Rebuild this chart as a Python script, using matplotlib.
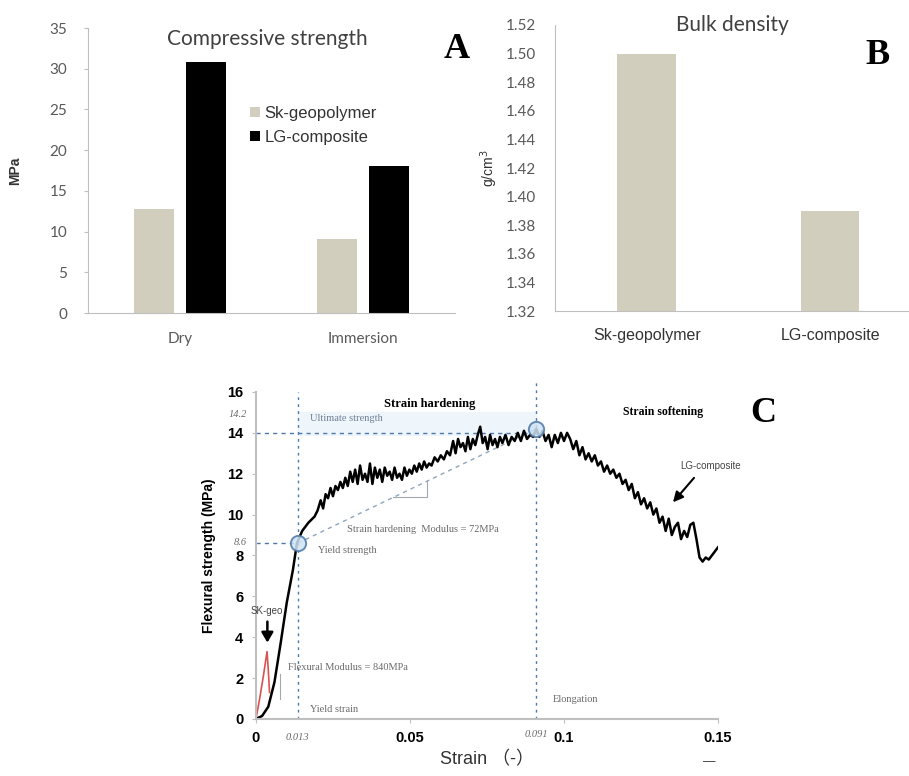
import matplotlib
matplotlib.use("Agg")
import matplotlib.pyplot as plt

# panel A - compressive strength (MPa)
conditions = ["Dry", "Immersion"]
sk_strength = [12.8, 9.1]
lg_strength = [30.8, 18.0]

# panel B - bulk density (g/cm3)
materials = ["Sk-geopolymer", "LG-composite"]
density = [1.50, 1.39]

# panel C - flexural stress/strain curve of LG-composite
lg_strain = [0.000, 0.002, 0.004, 0.006, 0.008, 0.010, 0.012, 0.0133, 0.0150, 0.0170,
             0.0190, 0.0200, 0.0210, 0.0218, 0.0226, 0.0234, 0.0242, 0.0250, 0.0258, 0.0266,
             0.0274, 0.0282, 0.0290, 0.0298, 0.0306, 0.0314, 0.0322, 0.0330, 0.0338, 0.0346,
             0.0354, 0.0362, 0.0370, 0.0378, 0.0386, 0.0394, 0.0402, 0.0410, 0.0418, 0.0426,
             0.0434, 0.0442, 0.0450, 0.0458, 0.0466, 0.0474, 0.0482, 0.0490, 0.0498, 0.0506,
             0.0514, 0.0522, 0.0530, 0.0538, 0.0546, 0.0554, 0.0562, 0.0570, 0.0580, 0.0590,
             0.0600, 0.0610, 0.0620, 0.0630, 0.0640, 0.0648, 0.0656, 0.0664, 0.0672, 0.0680,
             0.0688, 0.0696, 0.0704, 0.0712, 0.0720, 0.0728, 0.0736, 0.0744, 0.0752, 0.0760,
             0.0768, 0.0776, 0.0784, 0.0792, 0.0800, 0.0810, 0.0820, 0.0830, 0.0840, 0.0850,
             0.0860, 0.0870, 0.0880, 0.0890, 0.0900, 0.0910, 0.0920, 0.0930, 0.0940, 0.0950,
             0.0960, 0.0970, 0.0980, 0.0990, 0.1000, 0.1010, 0.1020, 0.1030, 0.1040, 0.1050,
             0.1060, 0.1070, 0.1080, 0.1090, 0.1100, 0.1110, 0.1120, 0.1130, 0.1140, 0.1150,
             0.1160, 0.1170, 0.1180, 0.1190, 0.1200, 0.1210, 0.1220, 0.1230, 0.1240, 0.1250,
             0.1260, 0.1270, 0.1280, 0.1290, 0.1300, 0.1310, 0.1320, 0.1330, 0.1340, 0.1350,
             0.1360, 0.1370, 0.1380, 0.1390, 0.1400, 0.1410, 0.1420, 0.1430, 0.1440, 0.1450,
             0.1460, 0.1470, 0.1480, 0.1490, 0.1500]
lg_stress = [0.0, 0.15, 0.6, 1.8, 3.7, 5.7, 7.3, 8.6, 9.2, 9.6,
             9.9, 10.2, 10.7, 10.3, 11.0, 10.8, 11.3, 10.9, 11.4, 11.2,
             11.6, 11.3, 11.8, 11.4, 12.1, 11.6, 12.2, 11.5, 12.4, 11.7,
             12.0, 11.6, 12.5, 11.5, 12.3, 11.8, 12.2, 11.6, 12.3, 11.9,
             12.1, 11.7, 12.3, 11.8, 12.0, 11.7, 12.3, 11.9, 12.2, 12.0,
             12.4, 12.1, 12.5, 12.2, 12.6, 12.3, 12.5, 12.4, 12.8, 12.6,
             12.9, 12.7, 13.1, 12.9, 13.6, 13.0, 13.7, 13.3, 13.5, 13.1,
             13.8, 13.2, 13.7, 13.4, 13.9, 14.3, 13.5, 13.8, 13.2, 13.9,
             13.4, 13.7, 13.3, 13.8, 13.5, 13.9, 13.4, 13.8, 13.6, 14.0,
             13.6, 14.1, 13.7, 13.9, 13.8, 14.2, 13.8, 14.1, 13.6, 13.9,
             13.3, 13.9, 13.5, 14.0, 13.6, 14.0, 13.7, 13.2, 13.6, 12.9,
             13.3, 12.7, 13.0, 12.6, 12.9, 12.4, 12.6, 12.1, 12.4, 12.0,
             12.2, 11.8, 12.0, 11.5, 11.7, 11.2, 11.5, 10.8, 11.1, 10.5,
             10.8, 10.3, 10.6, 10.0, 10.3, 9.6, 9.9, 9.2, 9.8, 9.0,
             9.4, 9.6, 8.8, 9.2, 8.9, 9.5, 9.6, 8.8, 7.9, 7.7,
             7.9, 7.8, 8.0, 8.2, 8.4]

sk_strain = [0.0, 0.0012, 0.0024, 0.0036, 0.0040, 0.0044]
sk_stress = [0.0, 1.0, 2.1, 3.3, 2.4, 1.3]

yield_strain, yield_strength = 0.0136, 8.6
peak_strain, peak_strength = 0.091, 14.2
ultimate_line = 14.0

beige = "#d2cebd"
grey_txt = "#595959"
spine_c = "#bfbfbf"
calibri = ["Lato", "DejaVu Sans"]
arial = ["Liberation Sans", "DejaVu Sans"]
times = ["Liberation Serif", "DejaVu Serif"]

fig = plt.figure(figsize=(9.09, 7.76), dpi=100)

# ---------------- A ----------------
axA = fig.add_axes([0.0968, 0.5966, 0.4037, 0.3673])
xs = range(len(conditions))
axA.bar([x - 0.141 for x in xs], sk_strength, width=0.217, color=beige, label="Sk-geopolymer")
axA.bar([x + 0.141 for x in xs], lg_strength, width=0.217, color="black", label="LG-composite")
axA.set_xlim(-0.5, 1.5)
axA.set_ylim(0, 35)
axA.set_yticks(range(0, 36, 5))
axA.set_xticks(list(xs))
axA.set_xticklabels(conditions, family=calibri, fontsize=11, color=grey_txt)
axA.tick_params(axis="x", length=0, pad=14)
axA.tick_params(axis="y", length=3, color=spine_c, labelcolor=grey_txt, labelsize=11, pad=12)
for lab in axA.get_yticklabels():
    lab.set_family(calibri)
for s in ["top", "right"]:
    axA.spines[s].set_visible(False)
axA.spines["left"].set_color(spine_c)
axA.spines["bottom"].set_color(spine_c)
axA.set_ylabel("MPa", family=arial, fontsize=10, fontweight="bold", color="#333333", labelpad=20)
axA.text(0.49, 0.96, "Compressive strength", transform=axA.transAxes, ha="center", va="center",
         family=calibri, fontsize=15, color="#404040")
axA.legend(loc="upper left", bbox_to_anchor=(0.40, 0.78), frameon=False, prop={"family": arial, "size": 12},
           handlelength=0.6, handleheight=0.6, handletextpad=0.3, labelspacing=0.55, labelcolor="#333333")

# ---------------- B ----------------
axB = fig.add_axes([0.6106, 0.5992, 0.3894, 0.3686])
axB.bar(range(len(materials)), [d - 1.32 for d in density], bottom=1.32, width=0.32, color=beige)
axB.set_xlim(-0.5, 1.43)
axB.set_ylim(1.32, 1.52)
axB.set_yticks([1.32 + 0.02 * i for i in range(11)])
axB.set_yticklabels(["%.2f" % (1.32 + 0.02 * i) for i in range(11)], family=calibri)
axB.set_xticks(range(len(materials)))
axB.set_xticklabels(materials, family=arial, fontsize=11.5, color="#333333")
axB.tick_params(axis="x", length=0, pad=12)
axB.tick_params(axis="y", length=0, labelcolor=grey_txt, labelsize=11, pad=14)
for s in ["top", "right"]:
    axB.spines[s].set_visible(False)
axB.spines["left"].set_color(spine_c)
axB.spines["bottom"].set_color(spine_c)
axB.set_ylabel("g/cm$^3$", family=arial, fontsize=10, color="#333333", labelpad=4)
axB.text(0.5, 1.0, "Bulk density", transform=axB.transAxes, ha="center", va="center",
         family=calibri, fontsize=15, color="#404040")

# ---------------- C ----------------
axC = fig.add_axes([0.2816, 0.0735, 0.5083, 0.4214])
blue = "#4f79a6"
axC.axhspan(13.9, 15.0, xmin=yield_strain / 0.15, xmax=peak_strain / 0.15, color="#eef5fb", zorder=0)
axC.plot([0, peak_strain], [ultimate_line, ultimate_line], ls=(0, (3, 3)), color=blue, lw=1)
axC.plot([0, yield_strain], [yield_strength, yield_strength], ls=(0, (3, 3)), color=blue, lw=1)
axC.plot([yield_strain, yield_strain], [0, 16], ls=(0, (2, 3)), color=blue, lw=1, clip_on=False)
axC.plot([peak_strain, peak_strain], [0, 16.6], ls=(0, (2, 3)), color=blue, lw=1, clip_on=False)
axC.plot([yield_strain, peak_strain], [yield_strength, peak_strength], ls=(0, (3, 3)), color="#8fa5bd", lw=1)
# slope triangles
axC.plot([0.0445, 0.0555, 0.0555], [10.85, 10.85, 11.64], color="#a0a8b0", lw=0.8)
axC.plot([0.0078, 0.0078], [1.0, 2.2], color="#a0a8b0", lw=0.8)

axC.plot(sk_strain, sk_stress, color="#d9544f", lw=1.2)
axC.plot(lg_strain, lg_stress, color="black", lw=1.8)
for px, py in [(yield_strain, yield_strength), (peak_strain, peak_strength)]:
    axC.plot(px, py, "o", ms=11, mfc="#cfe3f5", mec=blue, mew=1.4, alpha=0.85)

axC.set_xlim(0, 0.15)
axC.set_ylim(0, 16)
axC.set_xticks([0, 0.05, 0.1, 0.15])
axC.set_xticklabels(["0", "0.05", "0.1", "0.15"])
axC.set_yticks(range(0, 17, 2))
axC.tick_params(length=3, color=spine_c, labelsize=10.5, pad=6)
for lab in axC.get_xticklabels() + axC.get_yticklabels():
    lab.set_family(arial)
    lab.set_fontweight("bold")
for s in ["top", "right"]:
    axC.spines[s].set_visible(False)
axC.spines["left"].set_color(spine_c)
axC.spines["bottom"].set_color(spine_c)
axC.spines["left"].set_linewidth(1.5)
axC.spines["bottom"].set_linewidth(1.5)
axC.set_ylabel("Flexural strength (MPa)", family=arial, fontsize=10, fontweight="bold", labelpad=8)
axC.set_xlabel("Strain （-）", family=["Liberation Sans", "Noto Sans CJK SC"], fontsize=13,
               color="#333333", labelpad=4)

note = dict(family=times, fontsize=7.5, color="#6a6a6a")
axC.text(0.0565, 15.4, "Strain hardening", family=times, fontsize=9, fontweight="bold", ha="center", va="center")
axC.text(0.132, 15.0, "Strain softening", family=times, fontsize=8.5, fontweight="bold", ha="center", va="center")
axC.text(0.0175, 14.7, "Ultimate strength", va="center", **dict(note, color="#6d7f95"))
axC.text(0.020, 8.25, "Yield strength", va="center", **note)
axC.text(0.0295, 9.25, "Strain hardening  Modulus = 72MPa", va="center", **note)
axC.text(0.0105, 2.5, "Flexural Modulus = 840MPa", va="center", **note)
axC.text(0.0175, 0.45, "Yield strain", va="center", **note)
axC.text(0.0965, 0.95, "Elongation", va="center", **note)
axC.text(-0.003, 14.9, "14.2", ha="right", va="center", style="italic", family=times, fontsize=7.5, color="#6a6a6a")
axC.text(-0.003, 8.65, "8.6", ha="right", va="center", style="italic", family=times, fontsize=7.5, color="#6a6a6a")
axC.text(yield_strain, -0.9, "0.013", ha="center", va="center", style="italic", family=times, fontsize=7.5, color="#6a6a6a")
axC.text(peak_strain, -0.75, "0.091", ha="center", va="center", style="italic", family=times, fontsize=7.5, color="#6a6a6a")
axC.text(0.0035, 5.3, "SK-geo", ha="center", va="center", family=arial, fontsize=7, color="#444444")
axC.annotate("", xy=(0.0037, 3.6), xytext=(0.0037, 4.9),
             arrowprops=dict(arrowstyle="-|>,head_width=0.35,head_length=0.6", lw=1.8, color="black"))
axC.text(0.1475, 12.4, "LG-composite", ha="center", va="center", family=arial, fontsize=7, color="#444444")
axC.annotate("", xy=(0.1348, 10.5), xytext=(0.1428, 11.9),
             arrowprops=dict(arrowstyle="-|>,head_width=0.3,head_length=0.6", lw=1.5, color="black"))

# panel letters
fig.text(457 / 909, 1 - 50 / 776, "A", family=times, fontsize=26, fontweight="bold", ha="center", va="center")
fig.text(878 / 909, 1 - 55 / 776, "B", family=times, fontsize=26, fontweight="bold", ha="center", va="center")
fig.text(763 / 909, 1 - 414 / 776, "C", family=times, fontsize=26, fontweight="bold", ha="center", va="center")
fig.text(709 / 909, 1 - 762 / 776, "—", family=arial, fontsize=9, color="#333333", ha="center", va="center")

fig.savefig("out.png", dpi=100)
